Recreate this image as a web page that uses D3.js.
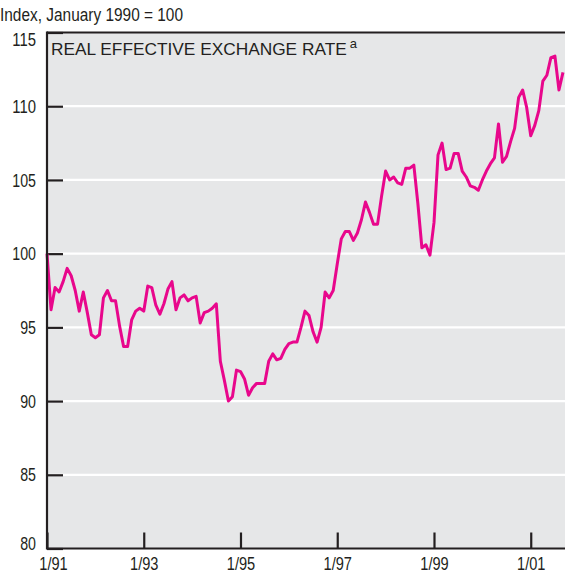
<!DOCTYPE html>
<html>
<head>
<meta charset="utf-8">
<script src="https://cdn.jsdelivr.net/npm/d3@7"></script>
<style>
  html, body { margin: 0; padding: 0; background: #fff; }
  svg { display: block; }
</style>
</head>
<body>
<svg id="chart" width="565" height="573"></svg>
<script>
// ---- DATA ----
// Monthly index values, January 1991 (month 0) through September 2001 (month 128)
const values = [
  100.0, 96.2, 97.7, 97.4, 98.1, 99.0, 98.5, 97.5, 96.1, 97.4, 96.0, 94.5,
  94.3, 94.5, 97.0, 97.5, 96.8, 96.8, 95.1, 93.7, 93.7, 95.5, 96.1, 96.3,
  96.1, 97.8, 97.7, 96.5, 95.9, 96.6, 97.6, 98.1, 96.2, 97.0, 97.2, 96.8,
  97.0, 97.1, 95.3, 96.0, 96.1, 96.3, 96.6, 92.7, 91.4, 90.0, 90.3, 92.1,
  92.0, 91.5, 90.4, 90.9, 91.2, 91.2, 91.2, 92.7, 93.2, 92.8, 92.9, 93.5,
  93.9, 94.0, 94.0, 95.0, 96.1, 95.8, 94.7, 94.0, 95.0, 97.4, 97.0, 97.5,
  99.3, 101.0, 101.5, 101.5, 100.9, 101.4, 102.3, 103.5, 102.8, 102.0, 102.0, 103.9,
  105.6, 105.0, 105.2, 104.8, 104.7, 105.8, 105.8, 106.0, 103.4, 100.4, 100.6, 99.9,
  102.1, 106.7, 107.5, 105.7, 105.8, 106.8, 106.8, 105.6, 105.2, 104.6, 104.5, 104.3,
  105.0, 105.6, 106.1, 106.5, 108.8, 106.2, 106.6, 107.6, 108.5, 110.6, 111.1, 109.9,
  108.0, 108.7, 109.7, 111.7, 112.1, 113.3, 113.4, 111.1, 112.3
];
const months = values.map((v, i) => i);
const xTickMonths = [0, 24, 48, 72, 96, 120];
const xTickLabels = ["1/91", "1/93", "1/95", "1/97", "1/99", "1/01"];
const yTicks = [80, 85, 90, 95, 100, 105, 110, 115];
const yGrid = [85, 90, 95, 100, 105, 110];
const yAxisTitle = "Index, January 1990 = 100";
const chartTitle = "REAL EFFECTIVE EXCHANGE RATE";
const chartTitleSup = "a";

// ---- LAYOUT ----
const L = 47, R = 565, T = 32.5, B = 548.5;
const narrow = "'Liberation Sans', Arial, Helvetica, sans-serif";
const regular = "'Liberation Sans', Arial, Helvetica, sans-serif";
const lineColor = "#E8078C";
const ink = "#231F20";

const svg = d3.select("#chart");

const x = d3.scaleLinear().domain([0, 128.5]).range([L, R]);
const y = d3.scaleLinear().domain([80, 115]).range([B, T]);

// plot background
svg.append("rect")
  .attr("x", L).attr("y", T)
  .attr("width", R - L).attr("height", B - T)
  .attr("fill", "#E6E7E8");

// white gridlines
svg.append("g").selectAll("line").data(yGrid).join("line")
  .attr("x1", L).attr("x2", R)
  .attr("y1", d => y(d)).attr("y2", d => y(d))
  .attr("stroke", "#fff").attr("stroke-width", 2.2);

// y axis (inner ticks)
const yAxis = svg.append("g")
  .attr("transform", `translate(${L},0)`)
  .call(d3.axisLeft(y).tickValues(yTicks).tickSize(-16).tickPadding(11).tickFormat(d3.format("d")));
yAxis.select(".domain").remove();
yAxis.selectAll(".tick line").attr("stroke", ink).attr("stroke-width", 2.2);
yAxis.selectAll(".tick text")
  .attr("font-family", narrow).attr("font-size", 17.5).attr("fill", ink)
  .attr("textLength", d => String(d).length * 7.9)
  .attr("lengthAdjust", "spacingAndGlyphs")
  .attr("dy", d => d === 115 ? "0.72em" : (d === 80 ? "0.05em" : "0.35em"));

// x axis (inner ticks)
const xAxis = svg.append("g")
  .attr("transform", `translate(0,${B})`)
  .call(d3.axisBottom(x).tickValues(xTickMonths).tickSize(-16).tickPadding(9.5)
    .tickFormat((d, i) => xTickLabels[i]));
xAxis.select(".domain").remove();
xAxis.selectAll(".tick line").attr("stroke", ink).attr("stroke-width", 2.2);
xAxis.selectAll(".tick text")
  .attr("font-family", narrow).attr("font-size", 17.5).attr("fill", ink)
  .attr("textLength", 28.4)
  .attr("lengthAdjust", "spacingAndGlyphs")
  .attr("dx", (d, i) => i === 0 ? 6 : 0);

// data line
const line = d3.line().x((d, i) => x(months[i])).y(d => y(d));
svg.append("path")
  .datum(values)
  .attr("d", line)
  .attr("fill", "none")
  .attr("stroke", lineColor)
  .attr("stroke-width", 3)
  .attr("stroke-linejoin", "round");

// frame: left, top, bottom
const frame = svg.append("g").attr("stroke", ink).attr("stroke-width", 2.2);
frame.append("line").attr("x1", L).attr("x2", L).attr("y1", T - 1.1).attr("y2", B + 1.1);
frame.append("line").attr("x1", L).attr("x2", R).attr("y1", T).attr("y2", T);
frame.append("line").attr("x1", L).attr("x2", R).attr("y1", B).attr("y2", B);

// axis title
svg.append("text")
  .attr("x", 0).attr("y", 21)
  .attr("font-family", narrow).attr("font-size", 17.5).attr("fill", ink)
  .attr("textLength", 183)
  .attr("lengthAdjust", "spacingAndGlyphs")
  .text(yAxisTitle);

// chart title
const t = svg.append("text")
  .attr("x", 51).attr("y", 55)
  .attr("font-family", regular).attr("font-size", 17.3).attr("fill", ink);
t.append("tspan").text(chartTitle);
t.append("tspan").attr("dx", 3).attr("dy", -7).attr("font-size", 13).text(chartTitleSup);
</script>
</body>
</html>
